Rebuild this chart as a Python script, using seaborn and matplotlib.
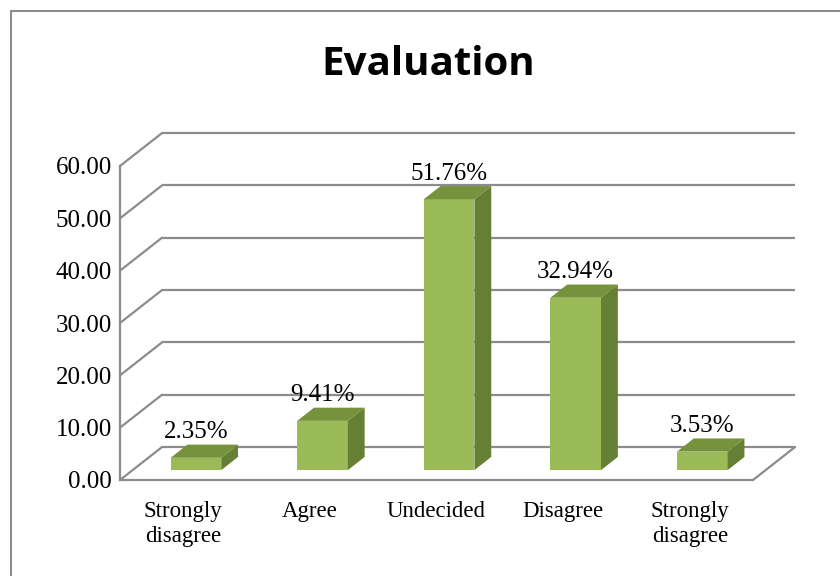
import numpy as np
import matplotlib
matplotlib.use("Agg")
import matplotlib.pyplot as plt
from matplotlib.patches import Polygon
from matplotlib.lines import Line2D
import seaborn as sns

# ---- Data ----
categories = ["Strongly\ndisagree", "Agree", "Undecided", "Disagree", "Strongly\ndisagree"]
values = [2.35, 9.41, 51.76, 32.94, 3.53]
y_ticks = [0, 10, 20, 30, 40, 50, 60]

# ---- Style ----
FRONT = "#9bbb59"
SIDE = "#657f35"
TOP = "#77923d"
GRID = "#8c8c8c"
SERIF = "Liberation Serif"

# 3D depth of the plot box, in data units (x: categories, y: value)
DX, DY = 0.332, 6.3
BAR_F0, BAR_D = 0.3, 0.4   # bar front position and depth as a fraction of box depth

sns.set_style("white")
plt.rcParams["font.family"] = [SERIF, "DejaVu Serif"]
plt.rcParams["text.color"] = "black"
plt.rcParams["xtick.color"] = "black"
plt.rcParams["ytick.color"] = "black"

fig = plt.figure(figsize=(8.4, 5.76), dpi=100)
ax = fig.add_axes([120 / 840, 1 - 480 / 576, (753 - 120) / 840, (480 - 166) / 576])

# front faces of the bars
sns.barplot(x=list(range(len(values))), y=values, color=FRONT, saturation=1,
            width=0.4, ax=ax, zorder=3)

ax.set_xlim(-0.5, len(values) - 0.5)
ax.set_ylim(0, 60)
x_lo, x_hi = ax.get_xlim()

# back wall gridlines and left wall diagonals
for v in y_ticks:
    ax.plot([x_lo + DX, x_hi + DX], [v + DY, v + DY], color=GRID, lw=1.6,
            clip_on=False, zorder=1, solid_capstyle="butt")
    ax.plot([x_lo, x_lo + DX], [v, v + DY], color=GRID, lw=1.6,
            clip_on=False, zorder=1)
# floor right edge
ax.plot([x_hi, x_hi + DX], [0, DY], color=GRID, lw=1.6, clip_on=False, zorder=1)

# extrude bars
for patch, v in zip(ax.patches, values):
    x0 = patch.get_x() + BAR_F0 * DX
    w = patch.get_width()
    y0 = BAR_F0 * DY
    h = patch.get_height()
    patch.set_x(x0)
    patch.set_y(y0)
    patch.set_edgecolor("none")
    x1 = x0 + w
    ddx, ddy = BAR_D * DX, BAR_D * DY
    side = Polygon([(x1, y0), (x1 + ddx, y0 + ddy), (x1 + ddx, y0 + h + ddy), (x1, y0 + h)],
                   closed=True, facecolor=SIDE, edgecolor="none", zorder=3, clip_on=False)
    top = Polygon([(x0, y0 + h), (x0 + ddx, y0 + h + ddy), (x1 + ddx, y0 + h + ddy), (x1, y0 + h)],
                  closed=True, facecolor=TOP, edgecolor="none", zorder=3, clip_on=False)
    ax.add_patch(side)
    ax.add_patch(top)
    ax.annotate(f"{v:.2f}%", xy=(x0 + w / 2, y0 + h + ddy), xytext=(0, 4.5),
                textcoords="offset points", ha="center", va="baseline",
                fontsize=18, color="black", annotation_clip=False)

# axes
ax.set_yticks(y_ticks)
ax.set_yticklabels([f"{v:.2f}" for v in y_ticks], fontsize=18)
ax.set_xticks(range(len(categories)))
ax.set_xticklabels(categories, fontsize=16.5, linespacing=1.25)
ax.tick_params(axis="y", length=0, pad=6)
ax.tick_params(axis="x", length=0, pad=15)
for s in ["top", "right"]:
    ax.spines[s].set_visible(False)
for s in ["left", "bottom"]:
    ax.spines[s].set_color(GRID)
    ax.spines[s].set_linewidth(1.6)
ax.set_xlabel("")
ax.set_ylabel("")
ax.set_facecolor("none")

# title
fig.text(428 / 840, 1 - 75 / 576, "Evaluation", ha="center", va="baseline",
         fontsize=29, fontweight="bold", color="black", family=["Open Sans", "DejaVu Sans"])

# chart area border (top and left visible)
fig.add_artist(Line2D([11 / 840, 1], [1 - 11 / 576, 1 - 11 / 576], color=GRID, lw=1.5))
fig.add_artist(Line2D([11 / 840, 11 / 840], [0, 1 - 11 / 576], color=GRID, lw=1.5))

fig.savefig("out.png", dpi=100)
